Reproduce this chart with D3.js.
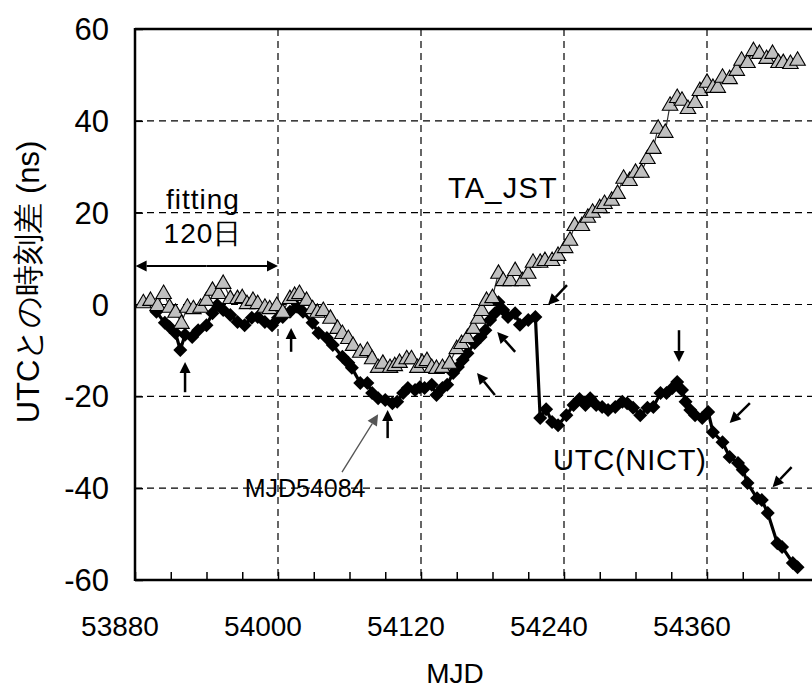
<!DOCTYPE html>
<html><head><meta charset="utf-8">
<script src="https://cdn.jsdelivr.net/npm/d3@7"></script>
<style>
html,body{margin:0;padding:0;background:#fff;}
svg{display:block;}
text{font-family:"Liberation Sans",Arial,sans-serif;fill:#000;}
</style></head>
<body>
<svg id="chart" width="812" height="691"></svg>
<script>
// ---- data ----
const taMJD = [53887,53893,53899,53904,53909,53914,53919,53924,53929,53935,53940,53945,53950,53954,53960,53966,53970,53974,53979,53983,53989,53993,53999,54004,54010,54014,54018,54024,54029,54033,54038,54044,54050,54054,54059,54063,54069,54075,54079,54084,54088,54094,54098,54102,54108,54112,54117,54121,54125,54129,54133,54138,54144,54150,54154,54159,54164,54168,54171,54175,54180,54185,54189,54195,54199,54205,54210,54214,54220,54224,54230,54235,54241,54245,54249,54255,54260,54264,54270,54274,54280,54285,54290,54295,54300,54305,54310,54315,54319,54325,54329,54335,54339,54344,54350,54354,54360,54365,54369,54373,54379,54385,54389,54394,54399,54404,54410,54415,54420,54424,54430,54436];
const taVal = [0.5,1.0,-0.1,2.5,-0.5,-1.6,-4.0,-0.5,-0.8,-0.5,1.0,3.2,2.5,4.7,1.4,1.4,1.6,0.3,1.0,0.3,-0.5,-0.8,-0.1,-1.6,1.4,2.1,2.5,1.0,-0.8,-1.6,-1.2,-2.9,-5.1,-6.2,-7.3,-8.8,-10.3,-9.9,-11.7,-13.6,-12.7,-13.6,-13.2,-12.5,-11.7,-11.7,-13.6,-12.5,-12.1,-13.6,-13.8,-13.6,-12.7,-9.5,-8.4,-7.1,-5.1,-2.9,-1.2,1.0,1.6,6.9,5.3,5.3,7.5,5.3,6.9,9.3,9.3,9.7,9.7,10.8,12.5,14.1,17.3,17.3,19.1,20.2,21.2,22.1,22.8,24.3,27.6,27.1,28.9,28.9,31.9,34.1,38.5,37.6,43.5,45.2,44.6,42.8,44.1,46.7,48.5,47.4,47.4,49.6,49.3,51.1,53.3,52.8,55.4,54.8,53.7,54.8,52.8,52.8,52.6,53.3];
const nictMJD = [53898,53905,53909,53914,53918,53922,53928,53933,53940,53945,53949,53954,53960,53966,53972,53978,53983,53989,53995,54000,54004,54010,54016,54021,54029,54034,54041,54046,54054,54059,54062,54069,54075,54079,54084,54090,54096,54100,54105,54109,54115,54119,54123,54129,54133,54138,54142,54147,54151,54155,54159,54165,54170,54174,54178,54182,54185,54189,54193,54199,54203,54210,54216,54220,54225,54230,54235,54242,54248,54253,54258,54262,54267,54272,54277,54283,54289,54293,54298,54304,54310,54315,54321,54326,54331,54335,54339,54342,54346,54350,54356,54361,54365,54373,54379,54386,54390,54394,54402,54406,54411,54419,54423,54432,54436];
const nictVal = [-1.6,-4.0,-4.9,-6.2,-9.9,-6.6,-7.1,-5.6,-4.5,-1.9,-0.1,-1.2,-2.3,-3.8,-4.5,-2.9,-2.7,-3.8,-4.5,-2.9,-2.7,-1.6,-0.5,-1.6,-4.0,-6.2,-7.3,-8.8,-11.4,-12.7,-13.8,-17.1,-17.1,-19.3,-20.4,-20.8,-21.5,-21.2,-19.3,-18.2,-18.6,-18.0,-18.2,-17.5,-19.7,-18.2,-17.5,-14.9,-13.6,-12.1,-10.6,-8.4,-7.1,-5.6,-3.4,-1.9,0.5,-1.2,-2.7,-1.9,-4.4,-3.4,-2.7,-24.7,-22.8,-25.6,-26.3,-24.1,-21.9,-20.6,-21.9,-20.4,-21.9,-22.3,-23.0,-22.3,-21.2,-21.5,-22.5,-24.1,-22.5,-22.3,-19.3,-19.3,-18.2,-16.9,-18.6,-21.2,-23.0,-24.1,-24.7,-23.4,-27.8,-30.0,-33.2,-34.5,-36.0,-38.9,-42.2,-42.6,-45.4,-52.0,-52.8,-56.3,-57.2];
const xTickValues = [53880,54000,54120,54240,54360];
const yTickValues = [-60,-40,-20,0,20,40,60];
const seriesNames = ["TA_JST","UTC(NICT)"];
const xTitle = "MJD";
const yTitle = "UTCとの時刻差 (ns)";

// ---- scales ----
const svg = d3.select("#chart");
const x = d3.scaleLinear().domain([53880, 54480]).range([135, 850]);
const y = d3.scaleLinear().domain([-60, 60]).range([580, 29]);
const X0 = x.range()[0], X1 = 812;
const Y0 = y.range()[0], Y1 = y.range()[1];

// grid
const g = svg.append("g");
g.selectAll(".hg").data([40,20,0,-20,-40]).enter().append("line")
  .attr("x1", X0).attr("x2", X1).attr("y1", d=>y(d)).attr("y2", d=>y(d))
  .attr("stroke","#000").attr("stroke-width",1.2).attr("stroke-dasharray","7,5");
g.selectAll(".vg").data([54000,54120,54240,54360]).enter().append("line")
  .attr("x1", d=>x(d)).attr("x2", d=>x(d)).attr("y1", Y1).attr("y2", Y0)
  .attr("stroke","#000").attr("stroke-width",1.2).attr("stroke-dasharray","7,5");

// axes
const xAxis = d3.axisBottom(x).tickValues(d3.range(53880, 54480, 30)).tickSize(-8).tickFormat("");
const xa = svg.append("g").attr("transform",`translate(0,${Y0})`).call(xAxis);
xa.select(".domain").remove();
xa.selectAll("line").attr("stroke","#000").attr("stroke-width",1.5);
const yAxis = d3.axisLeft(y).tickValues(yTickValues).tickSize(-8).tickFormat("");
const ya = svg.append("g").attr("transform",`translate(${X0},0)`).call(yAxis);
ya.select(".domain").remove();
ya.selectAll("line").attr("stroke","#000").attr("stroke-width",1.5);

// frame lines
svg.append("line").attr("x1",X0).attr("x2",X1).attr("y1",Y0).attr("y2",Y0).attr("stroke","#000").attr("stroke-width",2.5);
svg.append("line").attr("x1",X0).attr("x2",X1).attr("y1",Y1).attr("y2",Y1).attr("stroke","#000").attr("stroke-width",2.5);
svg.append("line").attr("x1",X0).attr("x2",X0).attr("y1",Y1-1).attr("y2",Y0+1).attr("stroke","#000").attr("stroke-width",2.5);

// tick labels
svg.selectAll(".xl").data(xTickValues).enter().append("text")
  .attr("x", d=>x(d)-15).attr("y", Y0+56).attr("text-anchor","middle")
  .attr("font-size",28).text(d=>d);
svg.selectAll(".yl").data(yTickValues).enter().append("text")
  .attr("x", 109).attr("y", d=>y(d)+11).attr("text-anchor","end")
  .attr("font-size",31).text(d=>d);

// titles
svg.append("text").attr("x", 455).attr("y", 683).attr("text-anchor","middle").attr("font-size",28).text(xTitle);
svg.append("text").attr("transform",`translate(39,282) rotate(-90)`).attr("text-anchor","middle")
  .attr("font-size",31).text(yTitle);

// series
const nict = nictMJD.map((d,i)=>({x:d,y:nictVal[i]}));
const ta = taMJD.map((d,i)=>({x:d,y:taVal[i]}));
const line = d3.line().x(d=>x(d.x)).y(d=>y(d.y));

svg.append("path").datum(nict).attr("d",line).attr("fill","none").attr("stroke","#000").attr("stroke-width",3.2);
svg.selectAll(".dm").data(nict).enter().append("path")
  .attr("d", d3.symbol().type(d3.symbolSquare).size(98))
  .attr("transform", d=>`translate(${x(d.x)},${y(d.y)}) rotate(45)`)
  .attr("fill","#000");

svg.append("path").datum(ta).attr("d",line).attr("fill","none").attr("stroke","#333").attr("stroke-width",1.2);
svg.selectAll(".tr").data(ta).enter().append("path")
  .attr("d", d3.symbol().type(d3.symbolTriangle).size(104))
  .attr("transform", d=>`translate(${x(d.x)},${y(d.y)+1})`)
  .attr("fill","#c0c0c0").attr("stroke","#000").attr("stroke-width",1.1);

// annotations (data coordinates)
function arrow(x1,y1,x2,y2,color,w,head){
  const px1=x(x1), py1=y(y1), px2=x(x2), py2=y(y2);
  const ang=Math.atan2(py2-py1,px2-px1);
  const L=head, W=head*0.5;
  const bx=px2-L*Math.cos(ang), by=py2-L*Math.sin(ang);
  svg.append("line").attr("x1",px1).attr("y1",py1).attr("x2",bx).attr("y2",by)
    .attr("stroke",color).attr("stroke-width",w);
  const p=[[px2,py2],[bx+W*Math.sin(ang),by-W*Math.cos(ang)],[bx-W*Math.sin(ang),by+W*Math.cos(ang)]];
  svg.append("path").attr("d","M"+p.map(q=>q.join(",")).join("L")+"Z").attr("fill",color);
}
const arrows = [
  [53922,-19.1,53922,-12.5],
  [54011,-10.3,54011,-5.1],
  [54092,-29.1,54092,-23.0],
  [54199,-10.3,54184,-6.0],
  [54182,-19.7,54167,-14.9],
  [54242.5,4.2,54226.6,-0.1],
  [54336.5,-5.6,54336.5,-12.5],
  [54396,-21.5,54379,-25.8],
  [54431,-35.4,54415,-39.8]
];
arrows.forEach(a=>arrow(a[0],a[1],a[2],a[3],"#000",2.5,11));
arrow(54053.7,-36.5,54084,-23.9,"#555",1.3,11);
// fitting range double arrow
arrow(53940,8.4,54000,8.4,"#000",2,11);
arrow(53940,8.4,53880.5,8.4,"#000",2,11);

svg.append("text").attr("x",x(53937)).attr("y",y(20.9)).attr("text-anchor","middle").attr("font-size",28).attr("letter-spacing",1).text("fitting");
svg.append("text").attr("x",x(53937)).attr("y",y(13.3)).attr("text-anchor","middle").attr("font-size",28).attr("letter-spacing",1).text("120日");
svg.append("text").attr("x",x(54142.7)).attr("y",y(23.2)).attr("font-size",29).attr("letter-spacing",1.2).text(seriesNames[0]);
svg.append("text").attr("x",x(54230.8)).attr("y",y(-36.0)).attr("font-size",29).attr("letter-spacing",0.8).text(seriesNames[1]);
svg.append("text").attr("x",x(53972)).attr("y",y(-41.9)).attr("font-size",25).text("MJD54084");
</script>
</body></html>
